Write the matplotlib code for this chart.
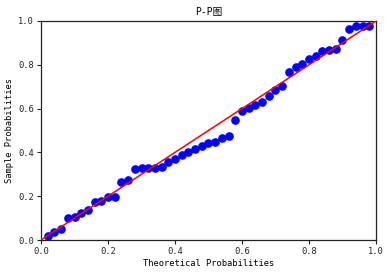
import matplotlib
matplotlib.use("Agg")
import matplotlib.pyplot as plt
import numpy as np

title = "P-P图"
xlabel = "Theoretical Probabilities"
ylabel = "Sample Probabilities"

sample_probs = [0.020, 0.035, 0.049, 0.100, 0.104, 0.122, 0.136, 0.172, 0.177, 0.195,
                0.195, 0.263, 0.273, 0.323, 0.327, 0.330, 0.330, 0.333, 0.355, 0.368,
                0.390, 0.403, 0.414, 0.431, 0.442, 0.449, 0.464, 0.473, 0.547, 0.590,
                0.604, 0.618, 0.630, 0.659, 0.686, 0.702, 0.766, 0.789, 0.802, 0.825,
                0.841, 0.863, 0.868, 0.871, 0.912, 0.962, 0.975, 0.977, 0.977]
n = len(sample_probs)
theoretical_probs = [i / (n + 1) for i in range(1, n + 1)]
ticks = [0.0, 0.2, 0.4, 0.6, 0.8, 1.0]

fam = ['DejaVu Sans Mono', 'Noto Sans CJK SC']
plt.rcParams['font.family'] = fam
plt.rcParams['font.size'] = 6.3

fig = plt.figure(figsize=(3.9, 2.73), dpi=100)
ax = fig.add_axes([41/390, 1-240/273, 335/390, 219/273])
ax.plot(theoretical_probs, sample_probs, 'o', color='blue', markersize=5.2, zorder=2)
ax.plot([0, 1], [0, 1], color='red', linewidth=1.1, zorder=3)
ax.set_xlim(0, 1)
ax.set_ylim(0, 1)
ax.set_xticks(ticks)
ax.set_yticks(ticks)
ax.set_xticklabels([f"{t:.1f}" for t in ticks])
ax.set_yticklabels([f"{t:.1f}" for t in ticks])
ax.tick_params(length=3, width=0.8, colors='#222222', labelsize=6.3, pad=2)
for s in ax.spines.values():
    s.set_color('#222222')
    s.set_linewidth(0.9)
ax.set_xlabel(xlabel, fontsize=6.3, labelpad=2)
ax.set_ylabel(ylabel, fontsize=6.3, labelpad=3)
ax.set_title(title, fontsize=7, pad=4)
fig.savefig("out.png", dpi=100)
